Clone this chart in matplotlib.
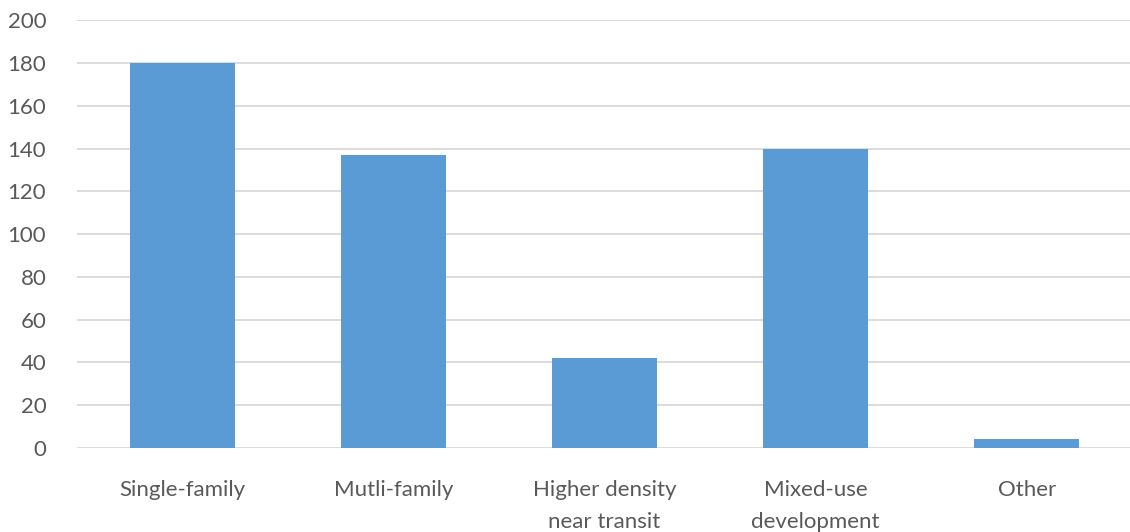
import matplotlib
matplotlib.use("Agg")
import matplotlib.pyplot as plt

categories = ["Single-family", "Mutli-family", "Higher density\nnear transit", "Mixed-use\ndevelopment", "Other"]
values = [180, 137, 42, 140, 4]
yticks = [0, 20, 40, 60, 80, 100, 120, 140, 160, 180, 200]

plt.rcParams['font.family'] = ['Lato', 'DejaVu Sans']

fig = plt.figure(figsize=(11.3, 5.32), dpi=100)
ax = fig.add_axes([0.068, 0.158, 0.934, 0.804])
x = list(range(len(categories)))
ax.bar(x, values, width=0.5, color="#5B9BD5", zorder=3)
ax.set_xlim(-0.5, len(categories) - 0.5)
ax.set_ylim(0, 200)
ax.set_yticks(yticks)
ax.set_xticks(x)
ax.set_xticklabels(categories, linespacing=1.75)
ax.grid(axis="y", color="#D9D9D9", linewidth=1.3, zorder=0)
for s in ax.spines.values():
    s.set_visible(False)
ax.tick_params(axis="both", length=0, labelsize=16, colors="#595959")
ax.tick_params(axis="x", pad=23)
ax.tick_params(axis="y", pad=22)
for lbl in ax.get_yticklabels():
    lbl.set_horizontalalignment("right")
fig.savefig("out.png", dpi=100, facecolor="white")
